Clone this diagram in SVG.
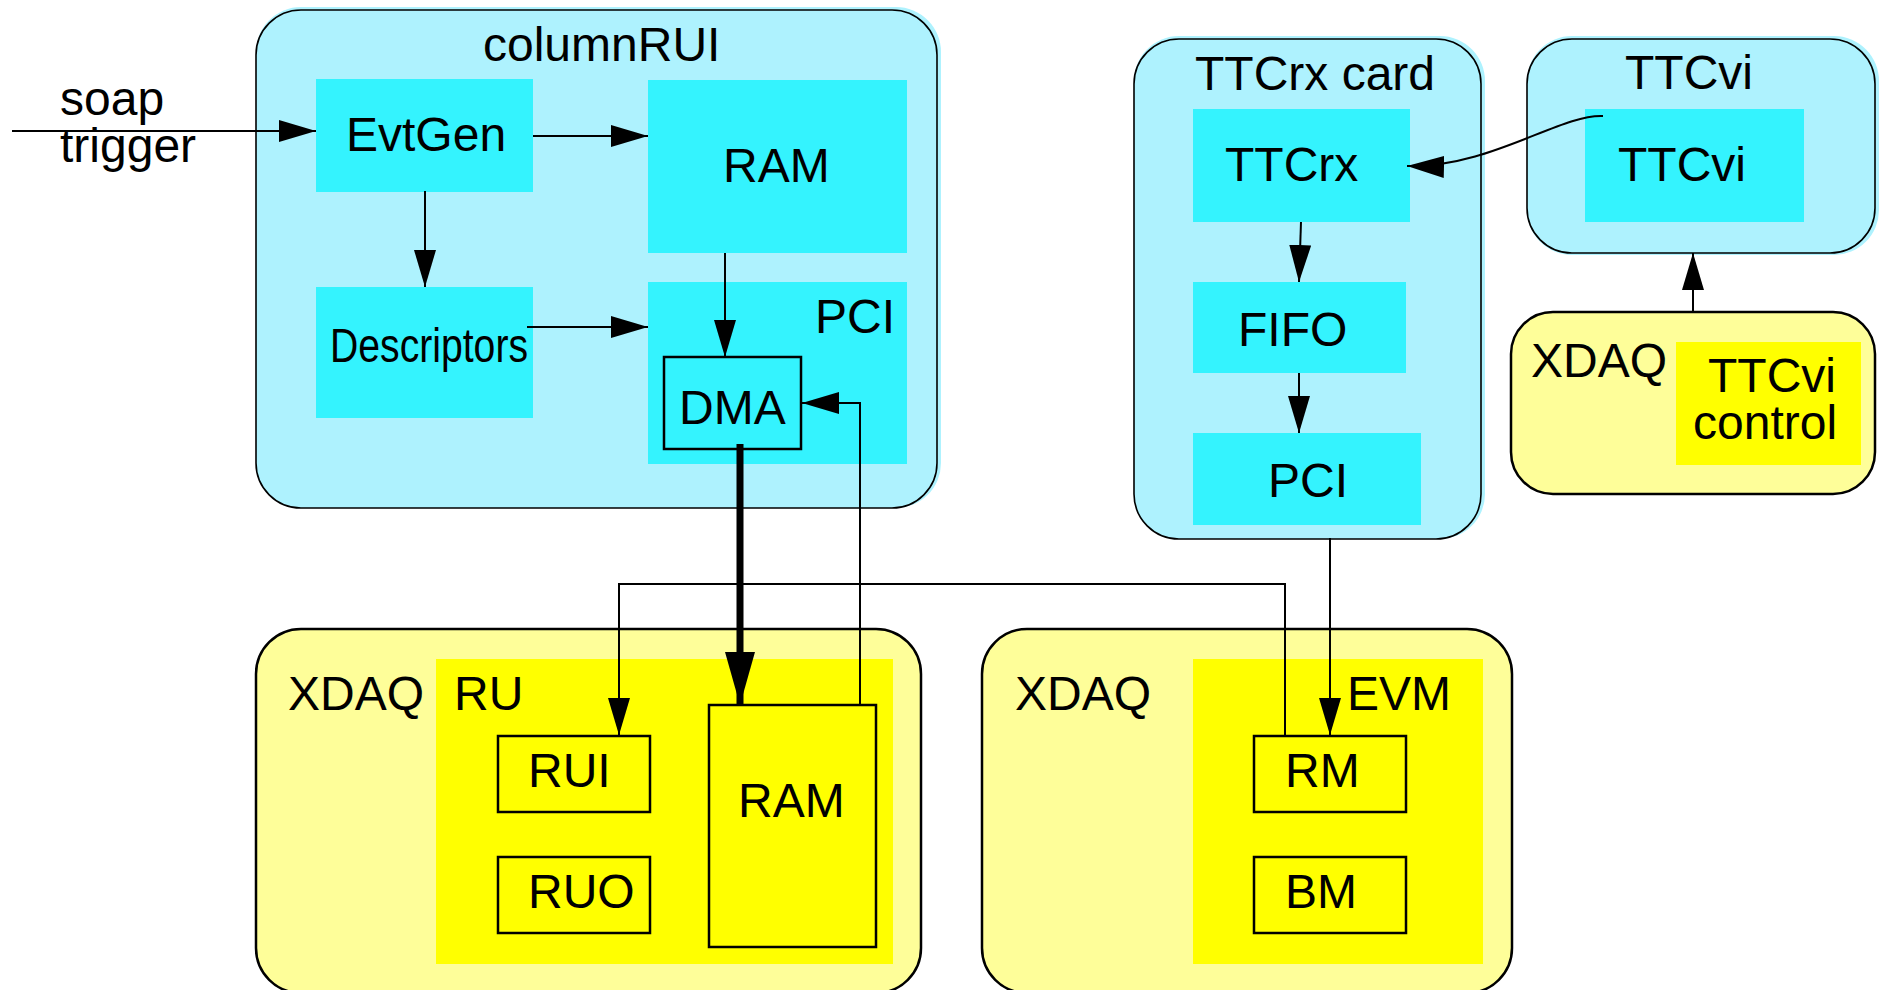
<svg xmlns="http://www.w3.org/2000/svg" width="1883" height="990" viewBox="0 0 1883 990">
<defs>
<marker id="ah" markerUnits="userSpaceOnUse" viewBox="0 0 37 22" refX="37" refY="11" markerWidth="37" markerHeight="22" orient="auto"><path d="M0,0 L37,11 L0,22 z" fill="#000"/></marker>
<marker id="ahb" markerUnits="userSpaceOnUse" viewBox="0 0 53 30" refX="53" refY="15" markerWidth="53" markerHeight="30" orient="auto"><path d="M0,0 L53,15 L0,30 z" fill="#000"/></marker>
</defs>
<style>
text{font-family:"Liberation Sans",Arial,sans-serif;font-size:48px;fill:#000}
.cshadow{fill:#AEF2FE;stroke:none}
.cout{fill:#AEF2FE;stroke:#000;stroke-width:1.6}
.cin{fill:#34F3FE;stroke:none}
.yout{fill:#FEFE99;stroke:#000;stroke-width:2.5}
.yin{fill:#FFFF00;stroke:none}
.box{fill:none;stroke:#000;stroke-width:2.5}
.ln{fill:none;stroke:#000;stroke-width:2}
</style>
<rect width="1883" height="990" fill="#fff"/>

<g id="columnRUI">
<rect class="cshadow" x="256" y="7" width="685" height="501" rx="45"/>
<rect class="cout" x="256" y="10" width="681" height="498" rx="45"/>
<text x="483" y="61">columnRUI</text>
</g>
<g id="EvtGen"><rect class="cin" x="316" y="79" width="217" height="113"/><text x="346" y="151">EvtGen</text></g>
<g id="RAM-top"><rect class="cin" x="648" y="80" width="259" height="173"/><text x="723" y="182">RAM</text></g>
<g id="Descriptors"><rect class="cin" x="316" y="287" width="217" height="131"/><text x="330" y="362" textLength="198" lengthAdjust="spacingAndGlyphs">Descriptors</text></g>
<g id="PCI-col"><rect class="cin" x="648" y="282" width="259" height="182"/><text x="815" y="333">PCI</text></g>
<g id="DMA"><rect class="box" x="664" y="357" width="137" height="92"/><text x="679" y="424">DMA</text></g>

<g id="TTCrx-card">
<rect class="cshadow" x="1134" y="36" width="351" height="503" rx="45"/>
<rect class="cout" x="1134" y="39" width="347" height="500" rx="45"/>
<text x="1195" y="90">TTCrx card</text>
</g>
<g id="TTCrx"><rect class="cin" x="1193" y="109" width="217" height="113"/><text x="1225" y="181">TTCrx</text></g>
<g id="FIFO"><rect class="cin" x="1193" y="282" width="213" height="91"/><text x="1238" y="346">FIFO</text></g>
<g id="PCI-ttc"><rect class="cin" x="1193" y="433" width="228" height="92"/><text x="1268" y="497">PCI</text></g>

<g id="TTCvi-card">
<rect class="cshadow" x="1527" y="36" width="352" height="219" rx="45"/>
<rect class="cout" x="1527" y="39" width="348" height="214" rx="45"/>
<text x="1625" y="89">TTCvi</text>
</g>
<g id="TTCvi"><rect class="cin" x="1585" y="109" width="219" height="113"/><text x="1618" y="181">TTCvi</text></g>

<g id="XDAQ-ttcvi">
<rect class="yout" x="1511" y="312" width="364" height="182" rx="42"/>
<text x="1531" y="377">XDAQ</text>
<rect class="yin" x="1676" y="342" width="185" height="123"/>
<text x="1708" y="392">TTCvi</text>
<text x="1693" y="439">control</text>
</g>

<g id="XDAQ-RU">
<rect class="yout" x="256" y="629" width="665" height="364" rx="45"/>
<text x="288" y="710">XDAQ</text>
<rect class="yin" x="436" y="659" width="457" height="305"/>
<text x="454" y="710">RU</text>
</g>
<g id="RUI"><rect class="box" x="498" y="736" width="152" height="76"/><text x="528" y="787">RUI</text></g>
<g id="RUO"><rect class="box" x="498" y="857" width="152" height="76"/><text x="528" y="908">RUO</text></g>
<g id="RAM-ru"><rect class="box" x="709" y="705" width="167" height="242"/><text x="738" y="817">RAM</text></g>

<g id="XDAQ-EVM">
<rect class="yout" x="982" y="629" width="530" height="364" rx="45"/>
<text x="1015" y="710">XDAQ</text>
<rect class="yin" x="1193" y="659" width="290" height="305"/>
<text x="1347" y="710">EVM</text>
</g>
<g id="RM"><rect class="box" x="1254" y="736" width="152" height="76"/><text x="1285" y="787">RM</text></g>
<g id="BM"><rect class="box" x="1254" y="857" width="152" height="76"/><text x="1285" y="908">BM</text></g>

<g id="soap-trigger"><text x="60" y="115">soap</text><text x="60" y="162">trigger</text></g>

<g id="connectors">
<path class="ln" d="M12,131 H316" marker-end="url(#ah)"/>
<path class="ln" d="M533,136 H648" marker-end="url(#ah)"/>
<path class="ln" d="M425,191 V287" marker-end="url(#ah)"/>
<path class="ln" d="M527,327 H648" marker-end="url(#ah)"/>
<path class="ln" d="M725,253 V357" marker-end="url(#ah)"/>
<path fill="none" stroke="#000" stroke-width="7" d="M740,444 V705" marker-end="url(#ahb)"/>
<path class="ln" d="M860,705 V403 H802" marker-end="url(#ah)"/>
<path class="ln" d="M1301,222 L1299,282" marker-end="url(#ah)"/>
<path class="ln" d="M1299,373 V433" marker-end="url(#ah)"/>
<path class="ln" stroke-width="2.5" d="M1603,116 C1560,114 1490,168 1407,166" marker-end="url(#ah)"/>
<path class="ln" d="M1330,538 V735" marker-end="url(#ah)"/>
<path class="ln" d="M1285,735 V584 H619 V735" marker-end="url(#ah)"/>
<path class="ln" d="M1693,312 V253" marker-end="url(#ah)"/>
</g>
</svg>
